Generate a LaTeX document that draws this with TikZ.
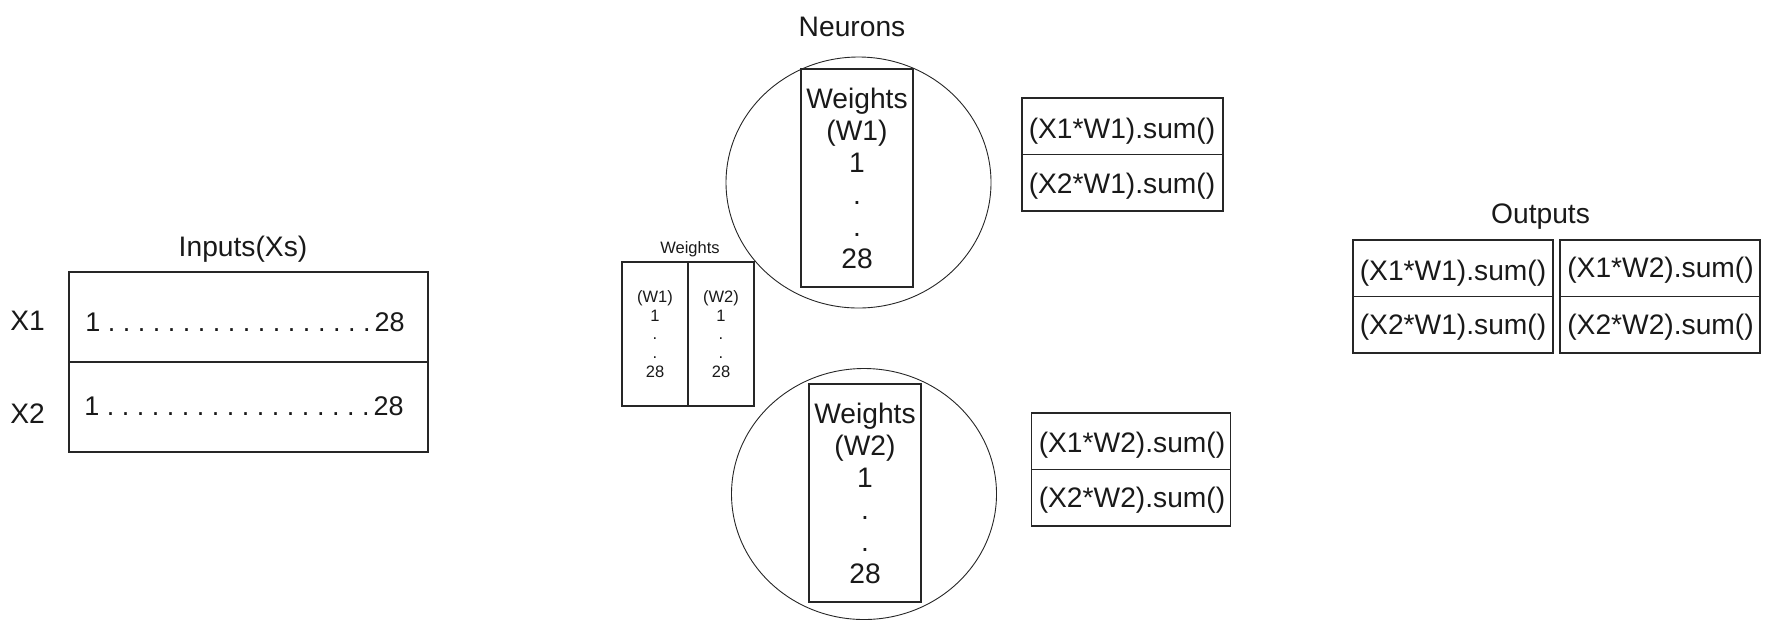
\documentclass[tikz,border=0pt]{standalone}
\usepackage{fontspec}
\setmainfont{Liberation Sans}
\usetikzlibrary{shapes,positioning}
\frenchspacing

\begin{document}
\begin{tikzpicture}[x=0.5pt,y=-0.5pt]
                    \tikzstyle{every node}+=[inner sep=0pt, text=black!90]
                    \tikzstyle{big}=[font=\fontsize{14.1}{16}\selectfont]
                    \tikzstyle{dotrow}=[font=\fontsize{13.5}{16}\selectfont, anchor=base west]
                    \tikzstyle{small}=[font=\fontsize{8.25}{9.4}\selectfont]
                    \tikzstyle{box}=[draw=black!85, line width=0.55pt, rectangle]
                    \tikzstyle{rule}=[draw=black!85, line width=0.55pt]
                    \tikzstyle{neuron}=[draw=black!85, line width=0.45pt, ellipse, minimum width=132.5pt, minimum height=125.5pt]
                    \useasboundingbox (0,0) rectangle (1770,629);
                    % inputs
                    \node [big, anchor=base] (intitle) at (243,256.5) {Inputs(Xs)};
                    \node [box, minimum width=179.5pt, minimum height=90pt] (in) at (248.5,362) {};
                    \draw [rule] (in.west) -- (in.east);
                    \node [big, anchor=base] (x1) at (27.5,330) {X1};
                    \node [big, anchor=base] (x2) at (27.5,423) {X2};
                    \node [dotrow] (row1) at (85,331) {1 . . . . . . . . . . . . . . . . . .\hspace{0.15em}28};
                    \node [dotrow] (row2) at (84,415) {1 . . . . . . . . . . . . . . . . . .\hspace{0.15em}28};
                    % weights
                    \node [small, anchor=base] (wtitle) at (690,253) {Weights};
                    \node [box, small, align=center, minimum width=33pt, minimum height=72pt] (sw1) at (655,334) {(W1)\\1\\.\\.\\28};
                    \node [box, small, align=center, minimum width=33pt, minimum height=72pt] (sw2) at (721,334) {(W2)\\1\\.\\.\\28};
                    % neurons
                    \node [big, anchor=base] (ntitle) at (852,36.5) {Neurons};
                    \node [neuron] (n1) at (858.5,182.5) {};
                    \node [neuron] (n2) at (864,494) {};
                    \node [box, big, align=center, minimum width=56pt, minimum height=109pt] (w1) at (857,178) {Weights\\(W1)\\1\\.\\.\\28};
                    \node [box, big, align=center, minimum width=56pt, minimum height=109pt] (w2) at (865,493) {Weights\\(W2)\\1\\.\\.\\28};
                    % sums per neuron
                    \node [box, minimum width=100.5pt, minimum height=56.5pt] (s1) at (1122.5,154.5) {};
                    \draw [rule] (s1.west) -- (s1.east);
                    \node [big, anchor=base] (s1a) at (1122,138) {(X1*W1).sum()};
                    \node [big, anchor=base] (s1b) at (1122,193) {(X2*W1).sum()};
                    \node [box, minimum width=99.4pt, minimum height=56.5pt] (s2) at (1131,469.5) {};
                    \draw [rule] (s2.west) -- (s2.east);
                    \node [big, anchor=base] (s2a) at (1132,452) {(X1*W2).sum()};
                    \node [big, anchor=base] (s2b) at (1132,507) {(X2*W2).sum()};
                    % outputs
                    \node [big, anchor=base] (otitle) at (1540.5,223) {Outputs};
                    \node [box, minimum width=100pt, minimum height=56.5pt] (o1) at (1453,296.5) {};
                    \draw [rule] (o1.west) -- (o1.east);
                    \node [big, anchor=base] (o1a) at (1453,280.5) {(X1*W1).sum()};
                    \node [big, anchor=base] (o1b) at (1453,334) {(X2*W1).sum()};
                    \node [box, minimum width=100pt, minimum height=56.5pt] (o2) at (1660,296.5) {};
                    \draw [rule] (o2.west) -- (o2.east);
                    \node [big, anchor=base] (o2a) at (1660.5,277) {(X1*W2).sum()};
                    \node [big, anchor=base] (o2b) at (1660.5,334) {(X2*W2).sum()};
\end{tikzpicture}
\end{document}
